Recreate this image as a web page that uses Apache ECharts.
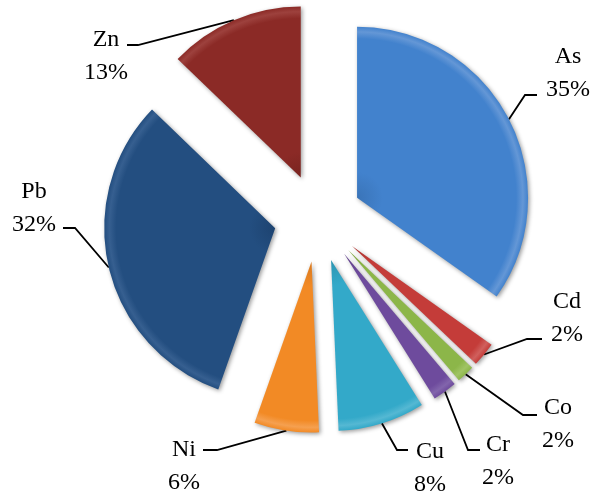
<!DOCTYPE html>
<html>
<head>
<meta charset="utf-8">
<script src="https://cdn.jsdelivr.net/npm/echarts@6/dist/echarts.min.js"></script>
<style>
html,body{margin:0;padding:0;background:#fff;}
#chart{width:592px;height:500px;}
</style>
</head>
<body>
<div id="chart"></div>
<script>
// ---- data ----
const categories = ['As', 'Cd', 'Co', 'Cr', 'Cu', 'Ni', 'Pb', 'Zn'];
const values = [34.8, 2.3, 1.7, 2.3, 8.2, 6.1, 31.8, 12.8];

// ---- styles ----
const baseColors = ['#4282cd', '#c43c39', '#8cb649', '#6e4b9d', '#33a9c9', '#f28a25', '#234e80', '#8b2a26'];
const lightColors = ['#6497d6', '#d0605d', '#a0c464', '#8265ac', '#55b8d3', '#f5a050', '#365f90', '#9d413d'];
const darkColors = ['#3a74b8', '#a8332f', '#7aa23e', '#5e3f88', '#2c94b0', '#d8791f', '#1d4370', '#78231f'];

// ---- layout ----
const CX = 318, CY = 218, RADIUS = 171, EXPLODE = 44;
// label text centre x / first-line centre y, leader end point, elbow length
const labelCenter = [[568, 57], [567, 302], [558, 408], [498, 445], [430, 452], [184, 450], [34, 192], [106, 40]];
const lineEnd = [[537, 95], [542, 339], [537, 415], [480, 450], [408, 450], [203, 450], [63, 228], [127, 45]];
const elbowLen = [12, 15, 14, 12, 11, 14, 12, 11];
const LINE_H = 33;
const FONT = "'Liberation Serif', 'Times New Roman', Times, serif";

const total = values.reduce((a, b) => a + b, 0);
let cum = 0;
const series = values.map((v, i) => {
  const mid = (cum + v / 2) / total * Math.PI * 2;
  cum += v;
  const cx = CX + EXPLODE * Math.sin(mid);
  const cy = CY - EXPLODE * Math.cos(mid);
  return {
    type: 'pie',
    silent: true,
    animation: false,
    startAngle: 90,
    clockwise: true,
    radius: RADIUS,
    center: [cx, cy],
    avoidLabelOverlap: false,
    emphasis: { disabled: true },
    labelLayout: function (p) {
      const j = p.dataIndex;
      const c = labelCenter[j], e = lineEnd[j];
      const sgn = e[0] < c[0] ? -1 : 1;
      const p0 = p.labelLinePoints ? p.labelLinePoints[0] : e;
      return {
        x: c[0],
        y: c[1] - LINE_H / 2,
        align: 'center',
        verticalAlign: 'top',
        labelLinePoints: [p0, [e[0] + sgn * elbowLen[j], e[1]], [e[0], e[1]]]
      };
    },
    data: categories.map((name, j) => {
      const vis = j === i;
      return {
        name: name,
        value: values[j],
        itemStyle: vis ? {
          color: {
            type: 'radial', x: cx, y: cy, r: RADIUS, global: true,
            colorStops: [
              { offset: 0, color: darkColors[i] },
              { offset: 0.15, color: baseColors[i] },
              { offset: 0.93, color: baseColors[i] },
              { offset: 0.97, color: lightColors[i] },
              { offset: 1, color: baseColors[i] }
            ]
          },
          borderWidth: 0,
          shadowBlur: 4,
          shadowColor: 'rgba(0,0,0,0.4)',
          shadowOffsetX: 1.5,
          shadowOffsetY: 1.5
        } : { color: 'rgba(0,0,0,0)', borderWidth: 0 },
        label: vis ? {
          show: true,
          position: 'outside',
          formatter: (p) => '{n|' + p.name + '}\n{n|' + Math.round(p.percent) + '%}',
          rich: {
            n: {
              fontFamily: FONT,
              fontSize: 24,
              lineHeight: LINE_H,
              color: '#000',
              align: 'center'
            }
          }
        } : { show: false },
        labelLine: vis ? {
          show: true,
          smooth: false,
          lineStyle: { color: '#000', width: 1.8 }
        } : { show: false }
      };
    })
  };
});

const chart = echarts.init(document.getElementById('chart'), null, { renderer: 'canvas' });
chart.setOption({
  backgroundColor: '#fff',
  animation: false,
  series: series
});
</script>
</body>
</html>
